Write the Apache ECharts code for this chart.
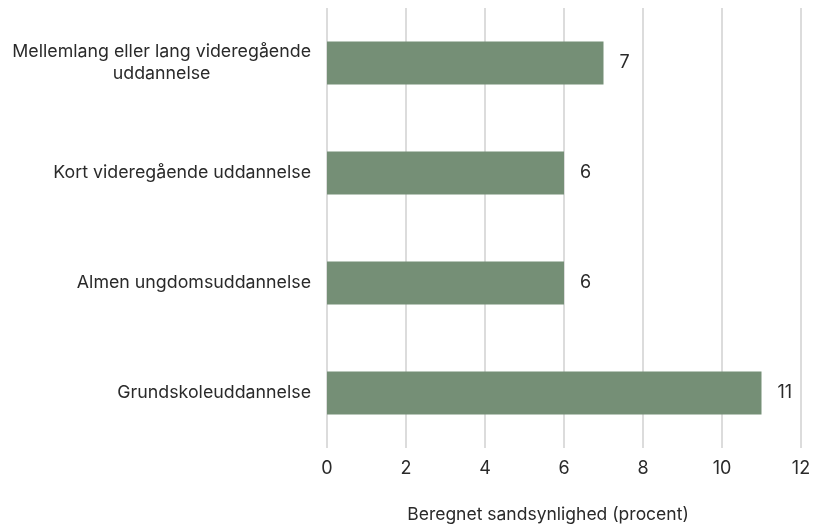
<!DOCTYPE html>
<html>
<head>
<meta charset="utf-8">
<script src="https://cdn.jsdelivr.net/npm/echarts@6/dist/echarts.min.js"></script>
<style>
  html, body { margin: 0; padding: 0; background: #fff; }
  #chart { width: 813px; height: 524px; }
</style>
</head>
<body>
<div id="chart"></div>
<script>
var categories = ['Mellemlang eller lang videregående\nuddannelse', 'Kort videregående uddannelse', 'Almen ungdomsuddannelse', 'Grundskoleuddannelse'];
var values = [7, 6, 6, 11];
var xTicks = [0, 2, 4, 6, 8, 10, 12];

var chart = echarts.init(document.getElementById('chart'));
var font = 'Inter, "Noto Sans", sans-serif';

var option = {
  textStyle: { fontFamily: font },
  grid: { left: 327, right: 12, top: 8, bottom: 76, containLabel: false, outerBoundsMode: 'none' },
  xAxis: {
    type: 'value',
    min: xTicks[0],
    max: xTicks[xTicks.length - 1],
    interval: 2,
    name: 'Beregnet sandsynlighed (procent)',
    nameLocation: 'middle',
    nameGap: 58,
    nameTextStyle: { fontSize: 17.5, color: '#2a2a2a', fontFamily: font, padding: [0, 32, 0, 0] },
    axisLine: { show: false },
    axisTick: { show: false },
    axisLabel: { fontSize: 18, color: '#2a2a2a', margin: 12, fontFamily: font },
    splitLine: { show: true, lineStyle: { color: '#d0d0d0', width: 1.5 } }
  },
  yAxis: {
    type: 'category',
    inverse: true,
    data: categories,
    axisLine: { show: false },
    axisTick: { show: false },
    axisLabel: {
      fontSize: 17.8,
      color: '#2a2a2a',
      margin: 16,
      fontFamily: font,
      formatter: function (v) {
        return v.split('\n').map(function (s) { return '{c|' + s + '}'; }).join('\n');
      },
      rich: { c: { align: 'center', fontSize: 17.8, color: '#2a2a2a', fontFamily: font, lineHeight: 22 } }
    }
  },
  series: [{
    type: 'bar',
    data: values,
    barWidth: 43,
    itemStyle: { color: '#758f76' },
    label: {
      show: true,
      position: 'right',
      distance: 16,
      fontSize: 18,
      color: '#2a2a2a',
      fontFamily: font
    }
  }]
};

chart.setOption(option);
</script>
</body>
</html>
